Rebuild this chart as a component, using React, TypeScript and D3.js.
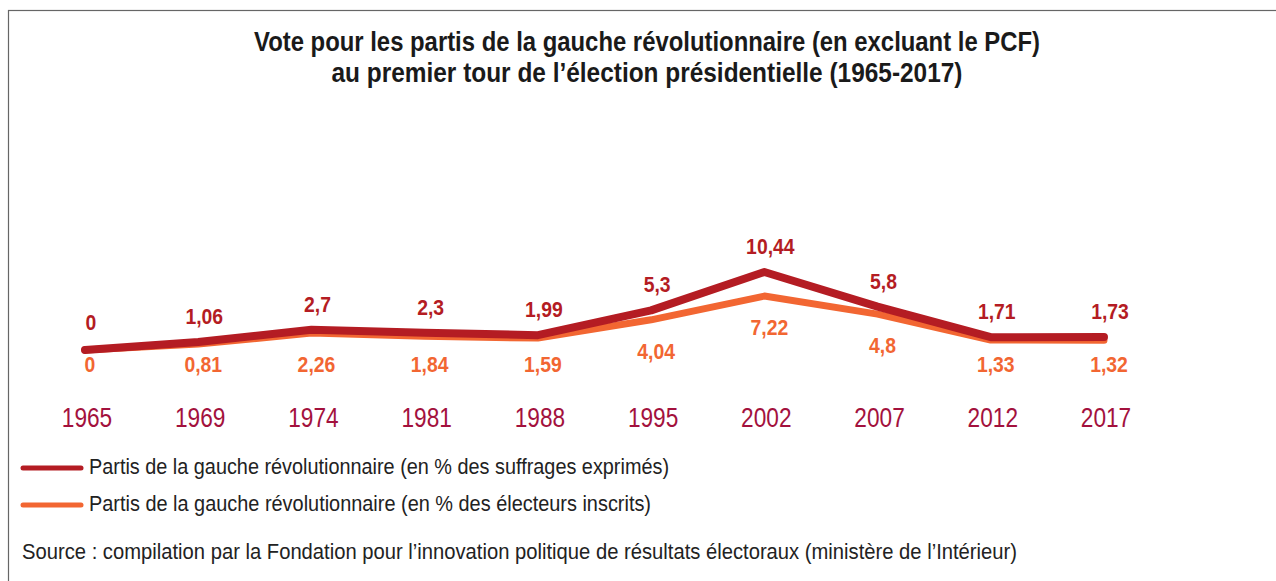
import React from "react";
import * as d3 from "d3";

const years = ["1965", "1969", "1974", "1981", "1988", "1995", "2002", "2007", "2012", "2017"];
const exprimes = [0, 1.06, 2.7, 2.3, 1.99, 5.3, 10.44, 5.8, 1.71, 1.73];
const inscrits = [0, 0.81, 2.26, 1.84, 1.59, 4.04, 7.22, 4.8, 1.33, 1.32];
const exprimesLabels = ["0", "1,06", "2,7", "2,3", "1,99", "5,3", "10,44", "5,8", "1,71", "1,73"];
const inscritsLabels = ["0", "0,81", "2,26", "1,84", "1,59", "4,04", "7,22", "4,8", "1,33", "1,32"];
const titleLines = [
  "Vote pour les partis de la gauche révolutionnaire (en excluant le PCF)",
  "au premier tour de l’élection présidentielle (1965-2017)",
];
const legendLabels = [
  "Partis de la gauche révolutionnaire (en % des suffrages exprimés)",
  "Partis de la gauche révolutionnaire (en % des électeurs inscrits)",
];
const sourceText =
  "Source : compilation par la Fondation pour l’innovation politique de résultats électoraux (ministère de l’Intérieur)";

const RED = "#b41c23";
const ORANGE = "#f26632";
const YEARC = "#a3113d";
const FONT = "'Liberation Sans', Arial, Helvetica, sans-serif";
const NARROW = 0.84;

export default function App() {
  const W = 1276, H = 581;
  const x = d3.scalePoint<string>().domain(years).range([85, 1104]);
  const y = d3.scaleLinear().domain([0, 10.44]).range([350, 272]);
  const line = d3
    .line<number>()
    .x((_, i) => x(years[i])!)
    .y((d) => y(d));

  const titleWidths = [786, 631];
  const legendWidths = [580, 562];

  return (
    <svg width={W} height={H} style={{ position: "absolute", left: 0, top: 0, background: "#fff" }}>
      <rect x={8.5} y={10.5} width={W} height={H} fill="none" stroke="#666" strokeWidth={1.2} />
      {titleLines.map((t, i) => (
        <text
          key={i}
          x={647 - titleWidths[i] / 2}
          y={51 + i * 31}
          textLength={titleWidths[i]}
          lengthAdjust="spacingAndGlyphs"
          fontFamily={FONT}
          fontWeight="bold"
          fontSize={27}
          fill="#1a1a1a"
        >
          {t}
        </text>
      ))}
      <path d={line(inscrits)!} fill="none" stroke={ORANGE} strokeWidth={7} strokeLinecap="round" strokeLinejoin="round" />
      <path d={line(exprimes)!} fill="none" stroke={RED} strokeWidth={8} strokeLinecap="round" strokeLinejoin="round" />
      {exprimes.map((v, i) => (
        <text
          key={"r" + i}
          transform={`translate(${x(years[i])! + 6},${Math.min(y(v) - 26, 322) + 8}) scale(0.88,1)`}
          textAnchor="middle"
          fontFamily={FONT}
          fontWeight="bold"
          fontSize={22}
          fill={RED}
        >
          {exprimesLabels[i]}
        </text>
      ))}
      {inscrits.map((v, i) => (
        <text
          key={"o" + i}
          transform={`translate(${x(years[i])! + 5},${Math.min(y(v) + 31, 364) + 8}) scale(0.88,1)`}
          textAnchor="middle"
          fontFamily={FONT}
          fontWeight="bold"
          fontSize={22}
          fill={ORANGE}
        >
          {inscritsLabels[i]}
        </text>
      ))}
      {years.map((yr, i) => (
        <text
          key={"y" + i}
          transform={`translate(${x(yr)! + 2},427) scale(${NARROW},1)`}
          textAnchor="middle"
          fontFamily={FONT}
          fontSize={27}
          fill={YEARC}
        >
          {yr}
        </text>
      ))}
      {legendLabels.map((t, i) => (
        <g key={"l" + i}>
          <line
            x1={23}
            x2={81}
            y1={468 + i * 37}
            y2={468 + i * 37}
            stroke={i === 0 ? RED : ORANGE}
            strokeWidth={5}
            strokeLinecap="round"
          />
          <text
            x={89}
            y={474 + i * 37}
            textLength={legendWidths[i]}
            lengthAdjust="spacingAndGlyphs"
            fontFamily={FONT}
            fontSize={22}
            fill="#222"
          >
            {t}
          </text>
        </g>
      ))}
      <text
        x={22}
        y={559}
        textLength={995}
        lengthAdjust="spacingAndGlyphs"
        fontFamily={FONT}
        fontSize={22}
        fill="#222"
      >
        {sourceText}
      </text>
    </svg>
  );
}
